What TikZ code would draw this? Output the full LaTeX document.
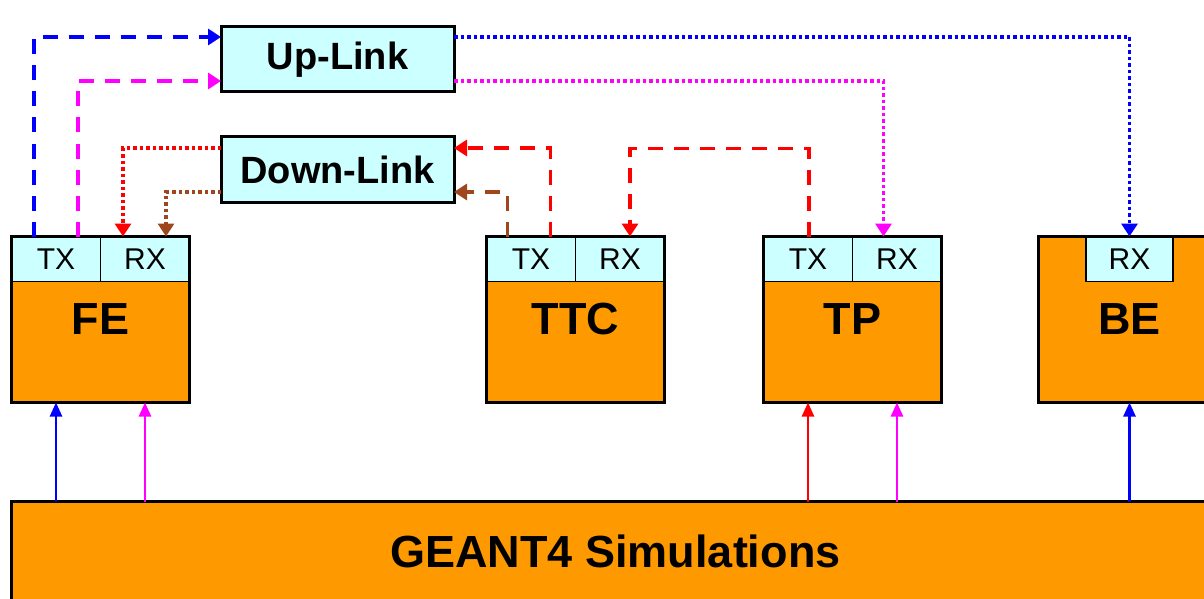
\documentclass[tikz,border=0pt]{standalone}
\usepackage{fontspec}
\setmainfont{Liberation Sans}
\usetikzlibrary{positioning,arrows.meta}
\definecolor{portcyan}{HTML}{CCFFFF}
\definecolor{unitorange}{HTML}{FF9900}
\definecolor{linkbrown}{HTML}{A0461E}
\definecolor{linkmagenta}{HTML}{FF00FF}
\definecolor{linkblue}{HTML}{0000FF}
\definecolor{linkred}{HTML}{FF0000}

\begin{document}
\begin{tikzpicture}[
  x = 1pt, y = -1pt,
  unit/.style = {draw, line width = 3pt, fill = unitorange, anchor = north west,
                 minimum width = 178pt, minimum height = 166pt, inner sep = 0pt, outer sep = 0pt,
                 font = \bfseries\fontsize{45}{47}\selectfont},
  port/.style = {draw, line width = 1.5pt, fill = portcyan,
                 minimum width = 89pt, minimum height = 45pt, inner sep = 0pt, outer sep = 0pt,
                 font = \fontsize{30}{32}\selectfont},
  link/.style = {draw, line width = 3pt, fill = portcyan,
                 minimum width = 233pt, minimum height = 65pt, inner sep = 0pt, outer sep = 0pt,
                 font = \bfseries\fontsize{38}{40}\selectfont},
  dashlink/.style = {line width = 3.5pt, dash pattern = on 15pt off 11pt,
                     -{Triangle[length = 13pt, width = 16pt]}},
  dotlink/.style = {line width = 3.5pt, dash pattern = on 3.5pt off 3pt,
                    -{Triangle[length = 13pt, width = 16pt]}},
  feed/.style = {line width = 2.5pt, -{Triangle[length = 14pt, width = 12pt]}},
  ]
  \useasboundingbox (0,0) rectangle (1204,599);
  \clip (0,0) rectangle (1204,599);

  \node[link] (up) at (337.5,59.5) {Up-Link};
  \node[link] (down) at (337.5,169.5) {Down-Link};

  \node[unit] (fe) at (11.5,236.5) {FE};
  \node[unit] (ttc) at (486.5,236.5) {TTC};
  \node[unit] (tp) at (763.5,236.5) {TP};
  \node[unit, minimum width = 182pt] (be) at (1038.5,236.5) {BE};
  \node[unit, minimum width = 1208pt, minimum height = 100pt] (geant) at (11.5,501.5) {GEANT4 Simulations};

  \node[port, anchor = north west] (fetx) at (fe.north west) {TX};
  \node[port, anchor = north east] (ferx) at (fe.north east) {RX};
  \node[port, anchor = north west] (ttctx) at (ttc.north west) {TX};
  \node[port, anchor = north east] (ttcrx) at (ttc.north east) {RX};
  \node[port, anchor = north west] (tptx) at (tp.north west) {TX};
  \node[port, anchor = north east] (tprx) at (tp.north east) {RX};
  \node[port, anchor = north, minimum width = 87pt] (berx) at (be.north) {RX};
  \foreach \u in {fe, ttc, tp, be}
    \draw[line width = 3pt] (\u.north west) rectangle (\u.south east);

  \draw[dashlink, linkblue] ([xshift = -22pt]fetx.north) |- ([yshift = 22.5pt]up.west);
  \draw[dashlink, linkmagenta] ([xshift = 22pt]fetx.north) |- ([yshift = -21.5pt]up.west);
  \draw[dotlink, linkblue] ([yshift = 22.5pt]up.east) -| (berx.north);
  \draw[dotlink, linkmagenta] ([yshift = -21.5pt]up.east) -| ([xshift = -13.5pt]tprx.north);
  \draw[dotlink, linkred] ([yshift = 21.5pt]down.west) -| ([xshift = -22pt]ferx.north);
  \draw[dotlink, linkbrown] ([yshift = -22.5pt]down.west) -| ([xshift = 21pt]ferx.north);
  \draw[dashlink, linkred] ([xshift = 19.5pt]ttctx.north) |- ([yshift = 21.5pt]down.east);
  \draw[dashlink, linkbrown] ([xshift = -23.5pt]ttctx.north) |- ([yshift = -22.5pt]down.east);
  \draw[dashlink, linkred] ([xshift = 1pt]tptx.north) -- ++(0,-88) -| ([xshift = 10pt]ttcrx.north);

  \draw[feed, linkblue] (geant.north -| fetx) -- (fe.south -| fetx);
  \draw[feed, linkmagenta] (geant.north -| ferx) -- (fe.south -| ferx);
  \draw[feed, linkred] (geant.north -| tptx) -- (tp.south -| tptx);
  \draw[feed, linkmagenta] (geant.north -| tprx) -- (tp.south -| tprx);
  \draw[feed, linkblue] (geant.north -| berx) -- (be.south -| berx);
\end{tikzpicture}
\end{document}
